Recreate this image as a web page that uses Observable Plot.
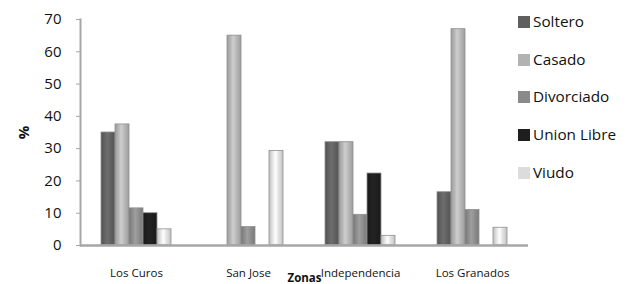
<!DOCTYPE html>
<html>
<head>
<meta charset="utf-8">
<script src="https://cdn.jsdelivr.net/npm/d3@7"></script>
<script src="https://cdn.jsdelivr.net/npm/@observablehq/plot@0.6"></script>
<style>
  body { margin: 0; background: #fff; }
  #wrap { position: relative; width: 632px; height: 284px; overflow: hidden; }
  g[aria-label="y-axis label"], g[aria-label="fx-axis label"] { font-weight: bold; }
  #legend { position: absolute; left: 518px; top: 11px; font-family: "Open Sans", sans-serif; font-size: 15.3px; color: #111; }
  #legend .row { height: 37.7px; display: flex; align-items: flex-start; }
  #legend .sw { width: 12px; height: 12px; margin-top: 5px; margin-right: 3px; }
</style>
</head>
<body>
<div id="wrap"></div>
<script>
const zonas = ["Los Curos", "San Jose", "Independencia", "Los Granados"];
const estados = ["Soltero", "Casado", "Divorciado", "Union Libre", "Viudo"];
const soltero    = [35,   0,    32,   16.5];
const casado     = [37.5, 65,   32,   67];
const divorciado = [11.5, 5.7,  9.5,  11];
const unionLibre = [10,   0,    22.3, 0];
const viudo      = [5,    29.3, 3,    5.5];
const yTicks = [0, 10, 20, 30, 40, 50, 60, 70];
const colores = ["#5f5f5f", "#b2b2b2", "#8a8a8a", "#1e1e1e", "#dcdcdc"];

const series = [soltero, casado, divorciado, unionLibre, viudo];
const data = [];
zonas.forEach((z, i) => estados.forEach((e, j) => {
  const v = series[j][i];
  if (v > 0) data.push({zona: z, estado: e, valor: v});
}));

const gradIds = estados.map((e, j) => "grad" + j);

const chart = Plot.plot({
  width: 632,
  height: 284,
  marginLeft: 80,
  marginRight: 104,
  marginTop: 19,
  marginBottom: 39,
  style: {fontFamily: "'Open Sans', sans-serif", color: "#111", background: "#fff"},
  fx: {domain: zonas, padding: 0},
  x: {domain: estados, axis: null, paddingInner: 0, paddingOuter: 1.5},
  y: {domain: [0, 70]},
  color: {domain: estados, range: gradIds.map(id => `url(#${id})`)},
  marks: [
    Plot.barY(data, {fx: "zona", x: "estado", y: "valor", fill: "estado", stroke: "#8f8f8f", strokeWidth: 0.8}),
    Plot.ruleY([0], {stroke: "#a6a6a6", strokeWidth: 2.5}),
    Plot.frame({anchor: "left", facet: "super", stroke: "#a6a6a6", strokeWidth: 2}),
    Plot.axisY({ticks: yTicks, tickSize: 4, tickPadding: 15, fontSize: 15, stroke: "#a6a6a6",
      label: "%", labelAnchor: "center", labelArrow: "none", labelOffset: 62}),
    Plot.axisFx({anchor: "bottom", tickSize: 0, tickPadding: 23, fontSize: 11.5,
      label: "Zonas", labelAnchor: "center", labelArrow: "none", labelOffset: 36})
  ]
});

// gradient definitions for cylindrical shading
const svgNS = "http://www.w3.org/2000/svg";
const defs = document.createElementNS(svgNS, "defs");
colores.forEach((c, j) => {
  const g = document.createElementNS(svgNS, "linearGradient");
  g.setAttribute("id", gradIds[j]);
  g.setAttribute("x1", "0"); g.setAttribute("x2", "1"); g.setAttribute("y1", "0"); g.setAttribute("y2", "0");
  const base = d3.color(c);
  const stops = [[0, base.darker(0.4)], [0.45, base.brighter(0.4)], [0.75, base], [1, base.darker(0.35)]];
  stops.forEach(([o, col]) => {
    const s = document.createElementNS(svgNS, "stop");
    s.setAttribute("offset", o);
    s.setAttribute("stop-color", col.formatHex());
    g.appendChild(s);
  });
  defs.appendChild(g);
});
chart.insertBefore(defs, chart.firstChild);

const wrap = document.getElementById("wrap");
wrap.appendChild(chart);

const legend = document.createElement("div");
legend.id = "legend";
estados.forEach((e, j) => {
  const row = document.createElement("div");
  row.className = "row";
  const sw = document.createElement("div");
  sw.className = "sw";
  sw.style.background = colores[j];
  const t = document.createElement("span");
  t.textContent = e;
  row.appendChild(sw); row.appendChild(t);
  legend.appendChild(row);
});
wrap.appendChild(legend);
</script>
</body>
</html>
